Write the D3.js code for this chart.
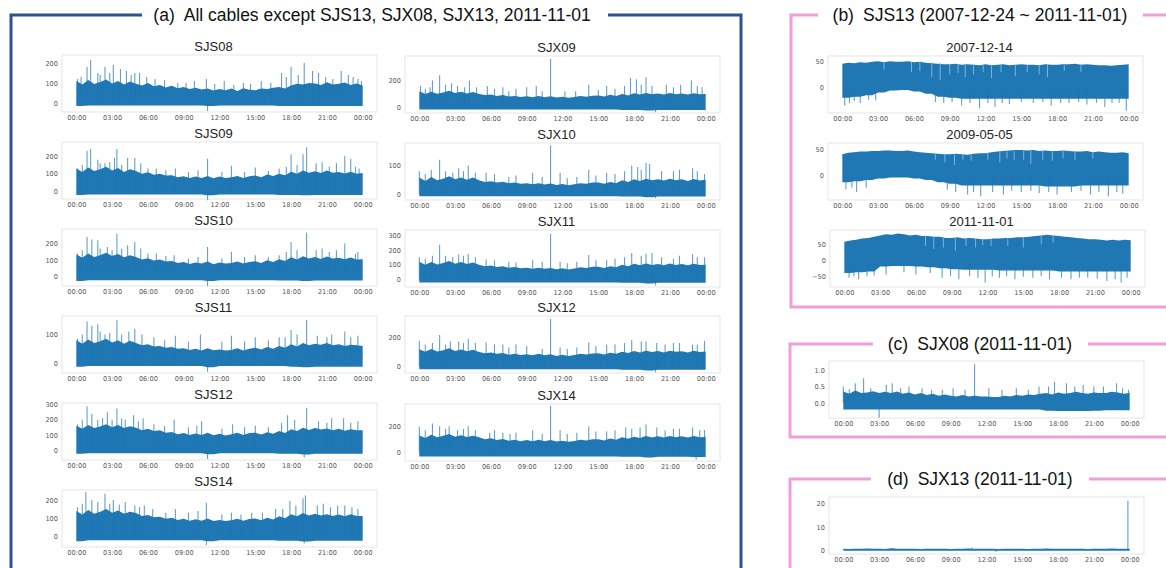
<!DOCTYPE html>
<meta charset="utf-8">
<body style="margin:0;background-color:white;">
<svg width="1166" height="568"></svg>
<script src="https://d3js.org/d3.v7.min.js"></script>
<script>

// x axis: hours of the day
var hourTicks = [0, 3, 6, 9, 12, 15, 18, 21, 24];
var hourLabels = ["00:00", "03:00", "06:00", "09:00", "12:00", "15:00", "18:00", "21:00", "00:00"];

// ---- (a) all cables, 2011-11-01
// hi: half-hourly upper envelope (49 values), lo: hourly lower envelope (25 values), spikes: [hour, value]
var sjs08Hi = [110,92, 115,95, 105,118, 98,110, 92,108, 96,88, 100,84, 90,78, 86,74, 80,70, 76,68, 72,62, 70,64, 72,60, 74,66, 64,72, 70,76, 80,72, 88,96, 92,100, 98,90, 104,92, 96,102, 90,98, 88];
var sjs08Lo = [-15,-12,-12,-12,-12,-12,-12,-12,-12,-12,-12,-15,-12,-12,-12,-12,-12,-15,-15,-15,-15,-15,-15,-15,-15];
var sjs08Spikes = [[0.1,120],[0.4,130],[0.9,180],[1.2,215],[1.8,150],[2.0,140],[2.4,180],[2.8,150],[3.1,190],[3.7,170],[4.2,160],[4.6,140],[4.9,150],[5.3,150],[5.9,130],[6.6,120],[7.4,115],[8.5,100],[9.2,100],[9.9,110],[10.9,120],[11.0,-40],[11.6,95],[12.4,110],[13.2,90],[14,100],[14.6,95],[15.5,110],[16.3,100],[17.2,150],[17.6,130],[18,180],[18.6,140],[19.1,200],[19.8,160],[20.3,150],[20.9,130],[21.5,120],[22.2,160],[22.8,140],[23.2,130],[23.6,120],[23.9,110]];

var sjs09Hi = [130,110, 135,115, 125,140, 118,132, 110,125, 115,100, 108,95, 100,90, 92,80, 86,76, 84,76, 88,74, 84,76, 80,88, 76,86, 90,80, 96,88, 100,92, 112,100, 118,106, 114,104, 118,106, 110,102, 112,100, 104];
var sjs09Lo = [-20,-18,-18,-18,-18,-18,-18,-18,-18,-18,-18,-22,-18,-18,-18,-18,-18,-20,-20,-22,-20,-20,-20,-20,-20];
var sjs09Spikes = [[0.1,130],[0.5,150],[0.9,230],[1.2,240],[1.8,180],[2.0,160],[2.4,160],[2.8,165],[3.2,190],[3.4,240],[3.8,150],[4.3,190],[4.9,190],[5.4,160],[6,130],[6.7,130],[7.5,120],[8.3,130],[9.4,110],[10.2,120],[11,185],[11,-50],[12.2,110],[13,145],[14.1,110],[15,135],[16.1,115],[17,130],[17.6,140],[18,210],[18.5,150],[19,210],[19.3,250],[20.1,160],[20.6,165],[21.2,140],[21.8,160],[22.5,200],[23,185],[23.4,140],[23.7,130]];

var sjs10Hi = [135,115, 140,120, 130,145, 125,138, 118,130, 120,105, 112,98, 104,92, 95,84, 90,78, 86,80, 92,76, 86,80, 84,92, 80,90, 94,84, 100,90, 106,96, 118,104, 124,110, 120,108, 122,110, 115,106, 116,104, 106];
var sjs10Lo = [-25,-20,-20,-20,-20,-20,-20,-20,-20,-20,-20,-25,-20,-20,-20,-20,-20,-22,-22,-25,-22,-22,-22,-22,-22];
var sjs10Spikes = [[0.1,140],[0.5,160],[0.9,240],[1.3,225],[1.8,220],[2.0,170],[2.6,180],[3.0,160],[3.4,260],[3.8,170],[4.3,190],[4.9,210],[5.4,170],[6,140],[6.7,140],[7.5,125],[8.2,130],[9.4,110],[10.2,120],[11,180],[11,-55],[12.2,110],[13,150],[14.1,120],[15,130],[16.1,120],[17,130],[17.6,150],[18,210],[18.5,160],[19.3,265],[20.1,160],[20.6,170],[21.2,150],[21.8,160],[22.5,200],[23.4,140],[23.6,150]];

var sjs11Hi = [80,68, 82,70, 76,85, 72,80, 68,78, 70,62, 66,58, 60,54, 56,50, 52,46, 50,44, 52,45, 48,44, 46,52, 44,50, 54,48, 56,50, 60,54, 66,58, 70,62, 68,64, 70,62, 66,60, 64,62, 60];
var sjs11Lo = [-12,-10,-10,-10,-10,-10,-10,-10,-10,-10,-10,-14,-10,-10,-10,-10,-10,-10,-12,-14,-12,-12,-12,-12,-12];
var sjs11Spikes = [[0.1,85],[0.5,100],[0.9,145],[1.3,130],[1.8,135],[2.0,110],[2.4,100],[2.8,105],[3.4,150],[3.8,100],[4.4,110],[4.9,120],[5.5,100],[6.5,90],[7.4,80],[8.3,95],[9.4,75],[10.4,100],[11,-30],[12.2,75],[13,95],[14.1,75],[15,90],[16.1,80],[17,90],[17.5,90],[18,115],[18.5,100],[19.3,150],[20.2,95],[21.0,90],[21.4,100],[22.5,110],[23.0,90],[23.6,95]];

var sjs12Hi = [160,140, 165,145, 155,170, 150,165, 145,158, 148,130, 140,125, 130,115, 120,105, 112,100, 110,100, 115,98, 108,96, 104,115, 100,112, 115,102, 118,108, 125,112, 138,125, 148,132, 145,135, 142,130, 140,128, 138,130, 130];
var sjs12Lo = [-25,-22,-22,-22,-22,-22,-22,-22,-22,-22,-22,-28,-22,-22,-22,-22,-22,-25,-25,-30,-25,-25,-25,-25,-25];
var sjs12Spikes = [[0.1,170],[0.5,200],[0.9,290],[1.3,240],[1.8,200],[2.2,210],[2.6,250],[3.0,200],[3.4,275],[3.8,210],[4.1,200],[4.8,230],[5.2,190],[5.6,210],[6.5,170],[7.4,160],[8.2,200],[9.4,150],[10.1,160],[10.5,190],[11,-60],[12.2,140],[13.1,170],[14.1,150],[15,160],[16.1,150],[17.2,180],[17.7,230],[18.3,200],[19.3,280],[19.1,-50],[20.3,190],[21.0,180],[21.4,210],[22.4,210],[23.0,180],[23.6,190]];

var sjs14Hi = [140,120, 145,125, 135,150, 130,142, 125,136, 128,112, 118,105, 108,96, 102,90, 96,86, 94,86, 98,84, 90,84, 88,96, 86,95, 98,88, 102,92, 110,100, 122,110, 128,115, 125,115, 122,112, 120,110, 122,112, 112];
var sjs14Lo = [-28,-22,-22,-22,-22,-22,-22,-22,-22,-22,-22,-28,-22,-22,-22,-22,-22,-25,-25,-30,-25,-25,-25,-25,-25];
var sjs14Spikes = [[0.1,160],[0.5,180],[0.8,245],[1.3,200],[1.8,190],[2.4,235],[2.8,180],[3.1,200],[3.6,175],[4.1,190],[4.9,170],[5.3,160],[5.7,170],[6.4,150],[7.5,130],[8.3,150],[9.4,130],[10.2,140],[10.9,185],[10.9,-50],[12.2,120],[13,130],[13.8,120],[14.7,130],[15.6,130],[16.7,150],[17.3,150],[17.9,195],[18.4,170],[19,210],[19.2,225],[19.1,-40],[20.2,170],[20.7,180],[21.3,160],[21.9,170],[22.5,170],[23.1,160],[23.6,150]];

var sjx09Hi = [120,100, 118,102, 112,125, 108,118, 104,115, 100,92, 96,86, 92,82, 86,78, 84,76, 86,76, 84,74, 80,72, 78,86, 80,88, 90,82, 94,86, 100,90, 106,96, 108,98, 104,96, 108,98, 104,96, 106,98, 100];
var sjx09Lo = [-15,-15,-15,-15,-15,-15,-15,-15,-15,-15,-15,-15,-15,-15,-15,-15,-15,-18,-18,-22,-18,-18,-18,-18,-18];
var sjx09Spikes = [[0.1,160],[0.5,140],[0.9,150],[1.1,200],[1.7,240],[2.2,170],[2.7,180],[3.2,160],[3.8,150],[4.2,200],[4.8,150],[5.7,160],[6.3,140],[7,150],[7.5,120],[8.1,140],[9,150],[9.8,160],[10.3,120],[11,360],[12.2,120],[13.1,120],[14.2,170],[15.0,130],[15.7,160],[16.4,140],[17.2,160],[17.7,220],[18.2,210],[18.6,170],[19,225],[19.5,160],[19.8,-35],[20.7,170],[21.3,150],[21.9,170],[22.8,200],[23.3,160],[23.7,150]];

var sjx10Hi = [58,46, 60,48, 54,62, 52,58, 50,58, 48,42, 45,40, 43,38, 40,36, 38,34, 38,33, 37,32, 35,31, 34,38, 36,40, 40,36, 42,38, 48,42, 52,46, 54,48, 52,47, 54,48, 52,46, 53,47, 50];
var sjx10Lo = [-8,-8,-8,-8,-8,-8,-8,-8,-8,-8,-8,-8,-8,-8,-8,-8,-8,-9,-9,-11,-9,-9,-9,-9,-9];
var sjx10Spikes = [[0,80],[0.5,70],[1,85],[1.7,120],[2.2,80],[2.8,75],[3.3,90],[3.7,80],[4.1,100],[4.7,75],[5.6,75],[6.3,70],[7.5,60],[8.1,65],[9.5,75],[10.3,60],[11,170],[11.8,75],[12.4,55],[13.2,60],[14.2,85],[14.8,65],[15.7,75],[16.4,70],[17.2,80],[17.8,100],[18.3,95],[18.6,85],[19,110],[19.3,105],[19.8,-15],[20.3,80],[21.3,80],[21.8,85],[22.9,90],[23.3,80],[23.9,70]];

var sjx11Hi = [120,100, 118,102, 112,125, 106,118, 104,115, 100,90, 95,85, 90,80, 85,76, 80,72, 80,72, 78,70, 76,68, 74,82, 78,86, 86,78, 90,82, 100,90, 106,96, 108,98, 104,96, 108,98, 104,96, 106,98, 100];
var sjx11Lo = [-20,-20,-20,-20,-20,-20,-20,-20,-20,-20,-20,-20,-20,-20,-20,-20,-20,-22,-22,-28,-22,-22,-22,-22,-22];
var sjx11Spikes = [[0,150],[0.5,140],[1.1,160],[1.7,235],[2.2,160],[2.8,150],[3.3,170],[3.7,160],[4.1,175],[4.7,150],[5.6,135],[6.3,130],[7.5,120],[8.1,115],[9.5,130],[10.3,120],[11,310],[11.8,120],[12.4,110],[13.2,120],[14.2,165],[14.8,130],[15.7,130],[16.4,140],[17.2,150],[17.8,180],[18.6,160],[19,175],[19.5,180],[19.8,-40],[20.3,150],[21.3,140],[21.8,160],[22.9,170],[23.3,150],[23.9,150]];

var sjx12Hi = [118,100, 120,102, 110,124, 106,116, 104,114, 98,90, 96,86, 92,80, 86,78, 84,76, 86,76, 84,72, 80,72, 78,86, 82,88, 90,82, 94,86, 100,92, 106,96, 108,98, 106,96, 108,100, 104,96, 108,98, 102];
var sjx12Lo = [-20,-20,-20,-20,-20,-20,-20,-20,-20,-20,-20,-20,-20,-20,-20,-20,-20,-22,-22,-28,-22,-22,-22,-22,-22];
var sjx12Spikes = [[0,175],[0.5,150],[1.1,160],[1.7,215],[2.2,150],[2.6,170],[3.3,170],[3.7,160],[4.1,190],[4.7,160],[5.6,165],[6.3,150],[7,150],[7.5,130],[8.1,150],[9,140],[10.3,120],[11,324],[11.8,130],[12.4,120],[13.2,130],[14.2,165],[14.8,140],[15.7,150],[16.4,150],[17.2,160],[17.8,180],[18.6,170],[19,170],[19.8,-40],[19.9,160],[20.6,150],[21.3,160],[21.8,160],[22.9,150],[23.3,150],[23.9,175]];

var sjx14Hi = [130,110, 135,115, 128,140, 120,132, 118,128, 115,100, 108,95, 102,90, 96,86, 95,86, 96,85, 95,84, 90,82, 88,96, 92,100, 100,92, 106,96, 115,104, 120,110, 126,114, 124,114, 126,116, 124,114, 125,115, 118];
var sjx14Lo = [-30,-30,-30,-30,-30,-30,-30,-30,-30,-30,-30,-30,-30,-30,-30,-30,-30,-32,-32,-38,-32,-32,-32,-35,-35];
var sjx14Spikes = [[0,195],[0.5,170],[1.1,220],[1.7,200],[2.2,180],[2.5,200],[3.2,170],[3.7,180],[4.1,200],[4.7,170],[5.9,150],[6.3,170],[7.0,150],[7.6,140],[8.1,150],[9.5,170],[10.3,140],[11,355],[11.8,170],[12.4,140],[13.2,150],[14.2,200],[14.8,160],[15.7,160],[16.4,170],[17.3,190],[17.8,180],[18.5,190],[19,215],[19.9,190],[20.6,170],[21.3,180],[21.8,180],[22.9,190],[23.2,-55],[23.5,170],[23.9,170]];

// ---- (b) SJS13 on three days ; dips: [hour, from, to] light streaks inside the band
var b07Hi = [46,48, 47,49, 48,50, 51,49, 51,50, 50,51, 49,50, 48,47, 46,45, 45,46, 44,45, 44,43, 45,43, 44,45, 43,44, 45,44, 44,43, 45,44, 44,45, 45,46, 44,45, 44,43, 43,42, 43,44, 45];
var b07Lo = [-20,-18,-15,-10,-6,-5,-8,-12,-18,-20,-22,-22,-22,-22,-22,-22,-22,-22,-22,-22,-22,-22,-22,-22,-22];
var b07Spikes = [[0.2,-35],[0.6,-30],[1.0,-26],[1.5,-30],[2.2,-24],[2.8,-25],[7.8,-28],[8.5,-30],[9.2,-28],[10,-35],[10.7,-30],[11.5,-40],[12.2,-30],[12.8,-38],[13.4,-30],[14,-32],[15,-28],[16,-30],[16.8,-28],[17.5,-35],[18.3,-30],[19,-30],[19.8,-28],[20.5,-33],[21.3,-30],[22,-38],[22.6,-30],[23.2,-30],[23.8,-45]];
var b07Dips = [[3.5,50,35],[5.8,50,30],[6.5,49,32],[7.5,49,20],[8.2,48,15],[9,46,25],[9.7,45,28],[10.3,45,20],[11,45,25],[11.8,44,30],[12.5,44,18],[13.3,44,30],[14.5,44,22],[15.5,44,30],[16.5,44,25],[17.2,44,20],[18.6,44,32],[20.0,45,30]];

var b09Hi = [40,43, 44,45, 45,46, 46,47, 47,46, 46,47, 45,44, 43,42, 41,40, 40,41, 40,39, 41,42, 42,44, 45,46, 47,48, 48,47, 48,46, 47,46, 46,47, 46,45, 45,46, 44,45, 44,43, 43,44, 42];
var b09Lo = [-12,-10,-8,-5,-3,-3,-5,-8,-12,-15,-18,-18,-18,-18,-18,-18,-18,-20,-20,-20,-18,-18,-18,-18,-18];
var b09Spikes = [[0.3,-25],[0.8,-22],[1.2,-30],[2,-22],[8.8,-26],[9.5,-30],[10.5,-35],[11.0,-30],[11.6,-38],[12.6,-30],[13.5,-35],[14.2,-28],[15,-30],[15.8,-28],[16.5,-32],[17.3,-30],[18,-35],[19.2,-30],[20.0,-28],[20.8,-35],[21.5,-30],[22.3,-38],[23.0,-30],[23.5,-33]];
var b09Dips = [[7.8,42,30],[8.6,41,25],[9.4,40,20],[10.1,40,30],[10.8,40,28],[12.2,42,30],[13.2,44,25],[13.8,45,32],[14.4,46,30],[15.2,47,30],[15.8,47,22],[16.8,47,30],[17.6,46,28],[18.5,46,32],[19.5,46,30],[21.0,45,32]];

var b11Hi = [58,62, 64,68, 70,74, 78,82, 80,84, 82,78, 80,76, 76,74, 74,70, 70,72, 68,70, 68,66, 66,68, 68,70, 70,72, 72,74, 76,78, 80,78, 76,74, 72,70, 68,66, 66,64, 62,64, 62,64, 63];
var b11Lo = [-40,-38,-35,-20,-18,-18,-20,-22,-25,-28,-30,-30,-30,-32,-32,-32,-32,-32,-35,-35,-35,-35,-35,-35,-35];
var b11Spikes = [[0.4,-55],[0.8,-50],[1.2,-60],[1.9,-50],[2.5,-48],[3.5,-45],[5.0,-38],[6,-45],[7.2,-40],[8.2,-55],[8.9,-50],[9.6,-60],[10.5,-50],[11.2,-55],[11.8,-70],[12.4,-50],[13,-55],[13.6,-50],[14.3,-60],[15.0,-52],[15.8,-55],[16.5,-50],[17.2,-60],[18.2,-55],[19,-60],[19.7,-55],[20.4,-55],[21.2,-58],[22,-65],[22.7,-60],[23.2,-70],[23.7,-55]];
var b11Dips = [[6.8,78,45],[7.5,75,35],[8.3,73,40],[9.3,72,30],[10.2,70,45],[11,68,40],[11.6,67,48],[12.3,67,45],[13.7,69,45],[15,72,40],[16.5,76,50],[17.5,78,55]];

// ---- (c) SJX08 and (d) SJX13
var sjx08Hi = [0.35,0.28, 0.38,0.3, 0.32,0.36, 0.3,0.34, 0.3,0.35, 0.28,0.32, 0.26,0.3, 0.24,0.28, 0.22,0.26, 0.22,0.2, 0.24,0.2, 0.22,0.2, 0.2,0.18, 0.18,0.22, 0.2,0.24, 0.22,0.26, 0.24,0.28, 0.3,0.26, 0.32,0.28, 0.3,0.34, 0.3,0.28, 0.32,0.3, 0.3,0.34, 0.32,0.28, 0.3];
var sjx08Lo = [-0.2,-0.2,-0.2,-0.2,-0.2,-0.2,-0.2,-0.2,-0.2,-0.2,-0.2,-0.2,-0.2,-0.2,-0.2,-0.2,-0.2,-0.24,-0.25,-0.25,-0.25,-0.24,-0.22,-0.22,-0.22];
var sjx08Spikes = [[0,0.5],[0.5,0.42],[1.0,0.6],[1.7,0.75],[2.3,0.45],[3.0,-0.45],[3.6,0.55],[4.1,0.6],[4.8,0.45],[5.5,0.5],[6.6,0.45],[7.4,0.4],[8.3,0.4],[9.2,0.45],[10.2,0.4],[11.0,1.18],[12.2,0.45],[13.3,0.4],[14.5,0.45],[15.5,0.4],[16.4,0.5],[17.2,0.5],[17.7,0.65],[18.7,0.6],[19.4,0.5],[20.1,0.55],[21.0,0.5],[21.8,0.5],[22.9,0.6],[23.4,0.45],[23.9,0.4]];

var sjx13Hi = [0.6,0.5, 0.6,0.6, 0.7,0.6, 0.6,0.5, 0.8,0.6, 0.6,0.6, 0.6,0.5, 0.6,0.6, 0.6,0.6, 0.5,0.6, 0.6,0.7, 0.6,0.6, 0.6,0.6, 0.5,0.6, 0.6,0.6, 0.6,0.5, 0.6,0.6, 0.7,0.6, 0.6,0.6, 0.6,0.6, 0.6,0.5, 0.6,0.6, 0.6,0.7, 0.6,0.6, 0.6];
var sjx13Lo = [-0.3,-0.3,-0.3,-0.3,-0.3,-0.3,-0.3,-0.3,-0.3,-0.3,-0.3,-0.3,-0.3,-0.3,-0.3,-0.3,-0.3,-0.3,-0.3,-0.3,-0.3,-0.3,-0.3,-0.3,-0.3];
var sjx13Spikes = [[4.2,0.8],[10.8,1.0],[12.8,-0.8],[23.85,21.3]];

var lineColor = '#1f77b4';
var frameW = 315, frameH = 57;
var svgContainer = d3.select("svg");

var panels = [
	{name:'SJS08', x:62,  y:55,  hi:sjs08Hi, lo:sjs08Lo, spikes:sjs08Spikes, yDomain:[-45,240],  yTicks:[0,100,200]},
	{name:'SJS09', x:62,  y:142, hi:sjs09Hi, lo:sjs09Lo, spikes:sjs09Spikes, yDomain:[-43,280],  yTicks:[0,100,200]},
	{name:'SJS10', x:62,  y:229, hi:sjs10Hi, lo:sjs10Lo, spikes:sjs10Spikes, yDomain:[-55,288],  yTicks:[0,100,200]},
	{name:'SJS11', x:62,  y:316, hi:sjs11Hi, lo:sjs11Lo, spikes:sjs11Spikes, yDomain:[-34,164],  yTicks:[0,100]},
	{name:'SJS12', x:62,  y:403, hi:sjs12Hi, lo:sjs12Lo, spikes:sjs12Spikes, yDomain:[-66,311],  yTicks:[0,100,200,300]},
	{name:'SJS14', x:62,  y:490, hi:sjs14Hi, lo:sjs14Lo, spikes:sjs14Spikes, yDomain:[-60,256],  yTicks:[0,100,200]},
	{name:'SJX09', x:405, y:56,  hi:sjx09Hi, lo:sjx09Lo, spikes:sjx09Spikes, yDomain:[-41,383],  yTicks:[0,200]},
	{name:'SJX10', x:405, y:143, hi:sjx10Hi, lo:sjx10Lo, spikes:sjx10Spikes, yDomain:[-21,179],  yTicks:[0,100]},
	{name:'SJX11', x:405, y:230, hi:sjx11Hi, lo:sjx11Lo, spikes:sjx11Spikes, yDomain:[-51,335],  yTicks:[0,100,200,300]},
	{name:'SJX12', x:405, y:316, hi:sjx12Hi, lo:sjx12Lo, spikes:sjx12Spikes, yDomain:[-45,345],  yTicks:[0,200]},
	{name:'SJX14', x:405, y:404, hi:sjx14Hi, lo:sjx14Lo, spikes:sjx14Spikes, yDomain:[-65,369],  yTicks:[0,200]},
	{name:'2007-12-14', x:828, y:56,  hi:b07Hi, lo:b07Lo, spikes:b07Spikes, dips:b07Dips, yDomain:[-49.5,61], yTicks:[0,50]},
	{name:'2009-05-05', x:828, y:143, hi:b09Hi, lo:b09Lo, spikes:b09Spikes, dips:b09Dips, yDomain:[-45,61],   yTicks:[0,50]},
	{name:'2011-11-01', x:830, y:230, hi:b11Hi, lo:b11Lo, spikes:b11Spikes, dips:b11Dips, yDomain:[-84,95],   yTicks:[-50,0,50]},
	{name:'', x:829, y:361, hi:sjx08Hi, lo:sjx08Lo, spikes:sjx08Spikes, yDomain:[-0.46,1.28], yTicks:[0,0.5,1.0], yFormat:'.1f'},
	{name:'', x:829, y:497, hi:sjx13Hi, lo:sjx13Lo, spikes:sjx13Spikes, yDomain:[-1.7,22.9],  yTicks:[0,10,20]}
];

panels.forEach(drawPanel);

function drawPanel(p) {
	var x = d3.scaleLinear().domain([-1.2, 25.2]).range([p.x, p.x + frameW]);
	var y = d3.scaleLinear().domain(p.yDomain).range([p.y + frameH, p.y]);
	var g = svgContainer.append('g');

	g.append('rect')
		.attr('x', p.x).attr('y', p.y)
		.attr('width', frameW).attr('height', frameH)
		.attr('fill', 'white')
		.attr('stroke', '#e9e9ef')
		.attr('stroke-width', 1.2);

	// dense signal drawn as band between envelopes (hi half-hourly, lo hourly)
	var band = d3.area()
		.x(function(d, i) { return x(i / 2); })
		.y0(function(d, i) { return y(p.lo[Math.floor(i / 2)]); })
		.y1(function(d) { return y(d); });
	g.append('path')
		.attr('d', band(p.hi))
		.attr('fill', lineColor);

	g.selectAll('.spike')
		.data(p.spikes)
		.enter().append('line')
		.attr('x1', function(d) { return x(d[0]); })
		.attr('x2', function(d) { return x(d[0]); })
		.attr('y1', y(0))
		.attr('y2', function(d) { return y(d[1]); })
		.attr('stroke', lineColor)
		.attr('stroke-opacity', 0.7)
		.attr('stroke-width', 1.1);

	if (p.dips) {
		g.selectAll('.dip')
			.data(p.dips)
			.enter().append('line')
			.attr('x1', function(d) { return x(d[0]); })
			.attr('x2', function(d) { return x(d[0]); })
			.attr('y1', function(d) { return y(d[1]); })
			.attr('y2', function(d) { return y(d[2]); })
			.attr('stroke', '#7fb3dc')
			.attr('stroke-width', 1);
	}

	var yAxis = d3.axisLeft(y).tickValues(p.yTicks).tickSize(0).tickPadding(4);
	if (p.yFormat) yAxis.tickFormat(d3.format(p.yFormat));
	var xAxis = d3.axisBottom(x).tickValues(hourTicks).tickSize(0).tickPadding(3)
		.tickFormat(function(d, i) { return hourLabels[i]; });

	var ya = g.append('g').attr('transform', 'translate(' + p.x + ',0)').call(yAxis);
	var xa = g.append('g').attr('transform', 'translate(0,' + (p.y + frameH) + ')').call(xAxis);
	[ya, xa].forEach(function(a) {
		a.select('.domain').remove();
		a.style('opacity', 0.99);   // grey antialiasing for the tiny labels
		a.selectAll('text')
			.attr('fill', '#555')
			.style('font-family', 'DejaVu Sans, sans-serif')
			.style('font-size', '6.6px');
	});

	if (p.name) {
		g.append('text')
			.attr('x', p.x + frameW / 2 - 6)
			.attr('y', p.y - 4)
			.attr('text-anchor', 'middle')
			.style('font-family', 'Liberation Sans, Arial, sans-serif')
			.style('font-size', '13px')
			.attr('fill', '#222')
			.text(p.name);
	}
}

// ---- group frames with their headings
var blue = '#2f5095', pink = '#ef9fd6';

function frameLines(pathD, color) {
	svgContainer.append('path')
		.attr('d', pathD)
		.attr('fill', 'none')
		.attr('stroke', color)
		.attr('stroke-width', 3);
}
frameLines('M11,568V15H142M608,15H741V568', blue);
frameLines('M818,15H791V307H1166M1143,15H1166', pink);
frameLines('M873,344H790V437H1166M1088,344H1166', pink);
frameLines('M871,479H790V568M1089,479H1166', pink);

function heading(cx, cy, tag, label) {
	var t = svgContainer.append('text')
		.attr('x', cx)
		.attr('y', cy)
		.attr('text-anchor', 'middle')
		.style('font-family', 'Liberation Sans, Arial, sans-serif')
		.style('font-size', '17.5px')
		.attr('fill', '#111');
	t.append('tspan').text(tag);
	t.append('tspan').attr('dx', 9).text(label);
}
heading(372, 21, '(a)', 'All cables except SJS13, SJX08, SJX13, 2011-11-01');
heading(980, 21, '(b)', 'SJS13 (2007-12-24 ~ 2011-11-01)');
heading(980, 350, '(c)', 'SJX08 (2011-11-01)');
heading(980, 485, '(d)', 'SJX13 (2011-11-01)');

</script>
</body>
